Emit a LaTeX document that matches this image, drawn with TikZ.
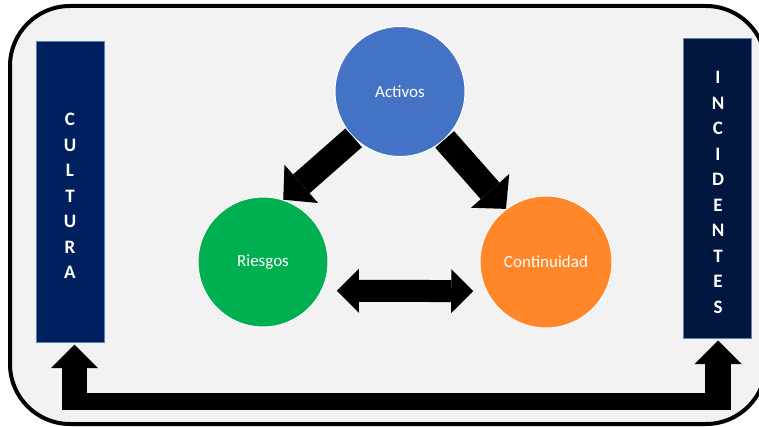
\documentclass[tikz,border=0pt]{standalone}
\usepackage{fontspec}
\setmainfont{Carlito}
\usetikzlibrary{arrows.meta, positioning}

\definecolor{panelgray}{HTML}{F2F2F2}
\definecolor{activosblue}{HTML}{4472C4}
\definecolor{riesgosgreen}{HTML}{00B050}
\definecolor{contorange}{HTML}{FF8629}
\definecolor{culturanavy}{HTML}{002060}
\definecolor{incidnavy}{HTML}{02173F}
\definecolor{barline}{HTML}{5B84B1}

\begin{document}
\begin{tikzpicture}[x=1pt, y=-1pt,
    phase circle/.style={circle, draw=white, line width=1pt, minimum size=130pt, inner sep=0pt, text=white, font=\fontsize{17}{20}\selectfont},
    side bar/.style={draw=barline, line width=1pt, minimum width=68pt, inner sep=0pt},
    bar letters/.style={text=white, align=center, inner sep=0pt, font=\bfseries\fontsize{19}{25.5}\selectfont},
    block arrow/.style={line width=25pt, -{Triangle[width=51pt, length=24pt, line width=0pt]}},
    both arrow/.style={line width=22pt, {Triangle[width=44pt, length=22pt, line width=0pt]}-{Triangle[width=44pt, length=22pt, line width=0pt]}},
    loop arrow/.style={line width=25.5pt, -{Triangle[width=47pt, length=23.5pt, line width=0pt]}}
]
    \useasboundingbox (0,0) rectangle (759,427);
    \fill[white] (0,0) rectangle (759,427);

    % Panel behind everything
    \draw[line width=4pt, fill=panelgray, rounded corners=60pt] (10,6) rectangle (766,424);

    % Side bars
    \node[side bar, fill=culturanavy, minimum height=300pt] (cultura) at (70,192) {};
    \node[bar letters] (cultura text) at ([yshift=-4pt]cultura.center) {C\\U\\L\\T\\U\\R\\A};
    \node[side bar, fill=incidnavy, minimum height=299pt] (incidentes) at (717,188.5) {};
    \node[bar letters] (incidentes text) at ([xshift=1pt,yshift=-4pt]incidentes.center) {I\\N\\C\\I\\D\\E\\N\\T\\E\\S};

    % The three circles
    \node[phase circle, fill=activosblue] (activos) at (400,91.5) {Activos};
    \node[phase circle, fill=riesgosgreen] (riesgos) at (263,262) {Riesgos};
    \node[phase circle, fill=contorange, minimum size=132pt] (continuidad) at (546,262) {Continuidad};

    % Arrows between circles
    \draw[block arrow] (activos.225) -- (riesgos.72);
    \draw[block arrow] (activos.313) -- (continuidad.127);
    \draw[both arrow, shorten <=15pt, shorten >=13pt] (riesgos.-26.5) -- (continuidad.206);

    % Loop under the panel, from incidentes back to cultura
    \coordinate (loopL) at (74.5,401.5);
    \coordinate (loopR) at (718,401.5);
    \draw[line width=17pt] ([xshift=-12.75pt]loopL) -- ([xshift=13pt]loopR);
    \draw[loop arrow] ([yshift=-8.5pt]loopL) -- ([xshift=4.5pt,yshift=-2pt]cultura.south);
    \draw[loop arrow] ([yshift=-8.5pt]loopR) -- ([xshift=1pt,yshift=-2pt]incidentes.south);
\end{tikzpicture}
\end{document}
